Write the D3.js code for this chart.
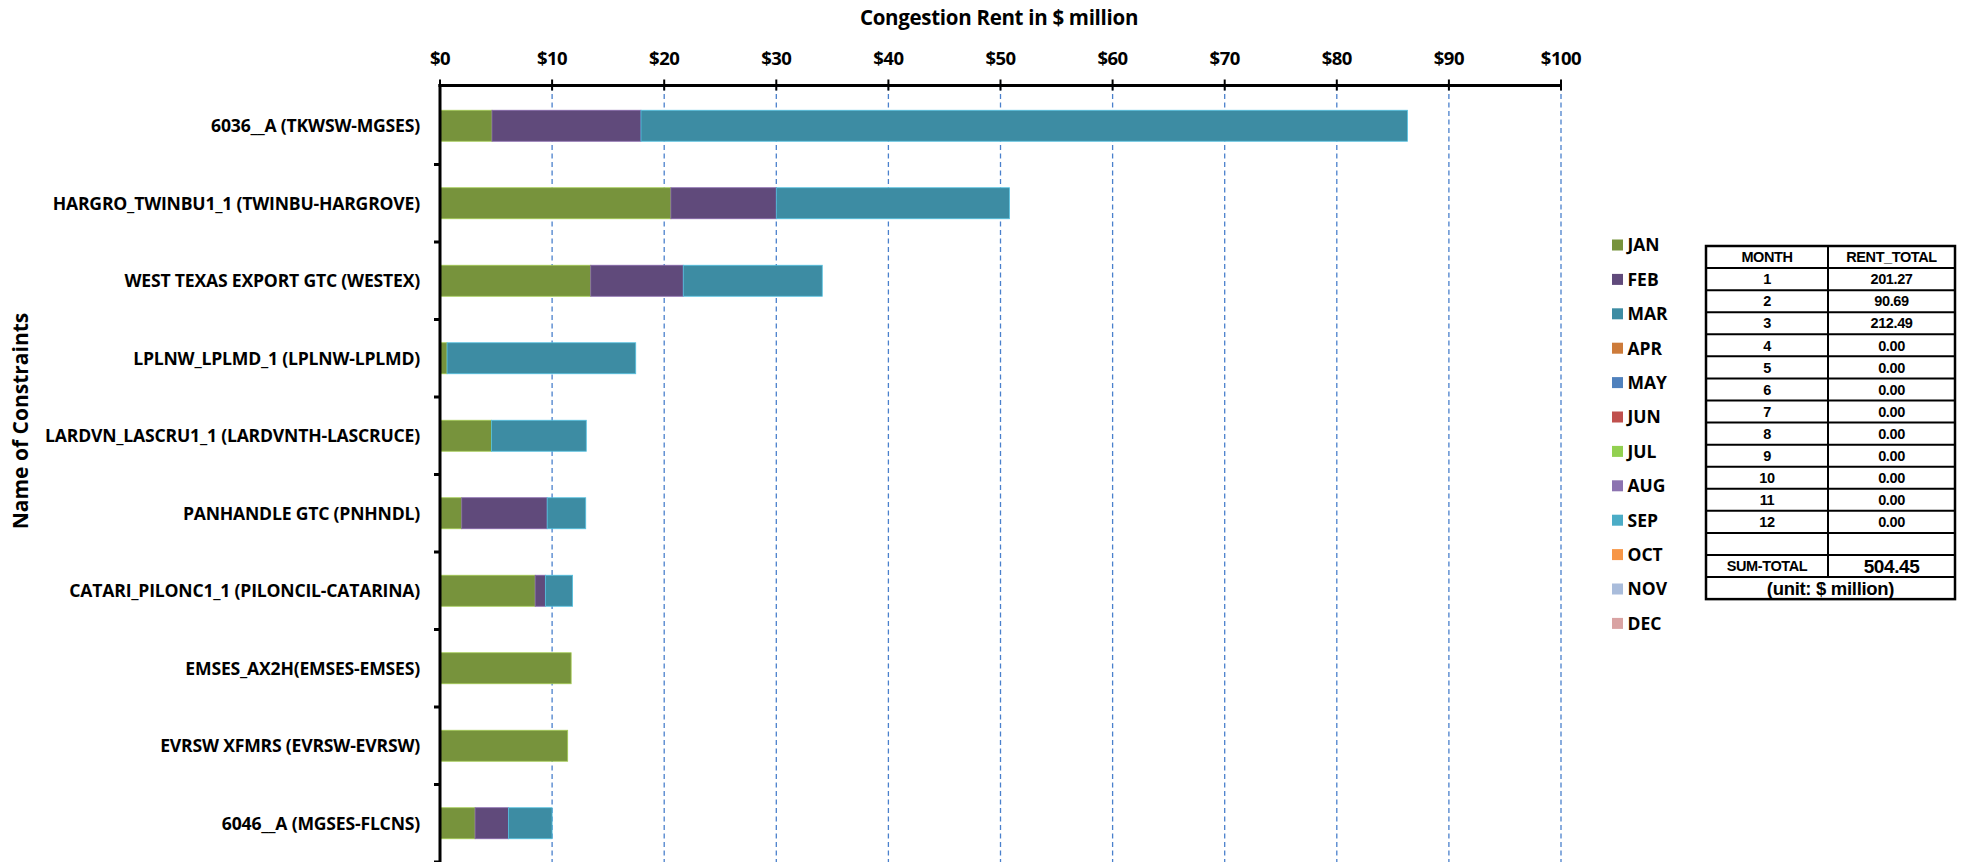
<!DOCTYPE html>
<html><head><meta charset="utf-8">
<script src="https://cdn.jsdelivr.net/npm/d3@7"></script>
<style>body{margin:0;background:#fff;} svg{display:block}</style>
</head><body><svg id="c" width="1967" height="862"></svg>
<script>
// ---- data ----
const constraints = ["6036__A (TKWSW-MGSES)", "HARGRO_TWINBU1_1 (TWINBU-HARGROVE)", "WEST TEXAS EXPORT GTC (WESTEX)",
  "LPLNW_LPLMD_1 (LPLNW-LPLMD)", "LARDVN_LASCRU1_1 (LARDVNTH-LASCRUCE)", "PANHANDLE GTC (PNHNDL)",
  "CATARI_PILONC1_1 (PILONCIL-CATARINA)", "EMSES_AX2H(EMSES-EMSES)", "EVRSW XFMRS (EVRSW-EVRSW)", "6046__A (MGSES-FLCNS)"];
const janValues = [4.64, 20.6, 13.45, 0.63, 4.6, 1.94, 8.49, 11.7, 11.39, 3.13];
const febValues = [13.29, 9.4, 8.25, 0, 0, 7.62, 0.91, 0, 0, 2.98];
const marValues = [68.37, 20.8, 12.4, 16.83, 8.45, 3.44, 2.43, 0, 0, 3.89];
const months = ["JAN","FEB","MAR","APR","MAY","JUN","JUL","AUG","SEP","OCT","NOV","DEC"];
const monthColors = ["#77933C","#604A7B","#3D8CA3","#CD7B3A","#4F81BD","#C0504D","#92D050","#8C73B0","#4BACC6","#F79646","#A9BCDB","#D9A3A3"];
const xTicks = [0,10,20,30,40,50,60,70,80,90,100];
const tableHeader = ["MONTH","RENT_TOTAL"];
const tableMonth = ["1","2","3","4","5","6","7","8","9","10","11","12"];
const tableRent = ["201.27","90.69","212.49","0.00","0.00","0.00","0.00","0.00","0.00","0.00","0.00","0.00"];
const sumLabel = "SUM-TOTAL", sumValue = "504.45", unitLabel = "(unit: $ million)";

// ---- layout ----
const svg = d3.select("#c");
const chartFont = "'Open Sans', Lato, sans-serif";
const tableFont = "'Liberation Sans', Arial, sans-serif";
const x = d3.scaleLinear().domain([0,100]).range([440,1561]);
const y = d3.scaleBand().domain(constraints).range([87,862]).paddingInner(0.6).paddingOuter(0.3);
const axisY = 85.5;

// gridlines
svg.append("g").selectAll("line").data(xTicks.filter(d=>d>0)).join("line")
  .attr("x1",d=>x(d)).attr("x2",d=>x(d)).attr("y1",axisY).attr("y2",862)
  .attr("stroke","#4A80CC").attr("stroke-width",1.3).attr("stroke-dasharray","5,3.5");

// stacked bars
const rows = constraints.map((c,i)=>({name:c, JAN:janValues[i], FEB:febValues[i], MAR:marValues[i]}));
const stack = d3.stack().keys(["JAN","FEB","MAR"])(rows);
svg.append("g").selectAll("g").data(stack).join("g")
  .attr("fill",(d,i)=>monthColors[i])
  .attr("stroke",(d,i)=>d3.color(monthColors[i]).brighter(0.9))
  .attr("stroke-width",0.8)
  .selectAll("rect").data(d=>d.filter(e=>e[1]-e[0]>0)).join("rect")
  .attr("x",d=>x(d[0])).attr("width",d=>x(d[1])-x(d[0]))
  .attr("y",d=>y(d.data.name)).attr("height",y.bandwidth());

// top axis
const gx = svg.append("g").attr("transform",`translate(0,${axisY})`);
gx.append("line").attr("x1",x(0)-1.5).attr("x2",x(100)+1).attr("stroke","#000").attr("stroke-width",3);
gx.selectAll(".tk").data(xTicks).join("line").attr("class","tk")
  .attr("x1",d=>x(d)).attr("x2",d=>x(d)).attr("y1",-6).attr("y2",5).attr("stroke","#000").attr("stroke-width",2);
gx.selectAll("text").data(xTicks).join("text")
  .attr("x",d=>x(d)).attr("y",-20.5).attr("text-anchor","middle")
  .style("font-family",chartFont).style("font-weight","bold").style("font-size","18.5px")
  .style("letter-spacing","-0.5px")
  .text(d=>"$"+d);

// left axis
const gy = svg.append("g");
gy.append("line").attr("x1",440).attr("x2",440).attr("y1",axisY-1.5).attr("y2",862).attr("stroke","#000").attr("stroke-width",3);
const step = y.step();
gy.selectAll(".tk").data(constraints).join("line").attr("class","tk")
  .attr("x1",434).attr("x2",440)
  .attr("y1",d=>y(d)-y.paddingOuter()*step+step).attr("y2",d=>y(d)-y.paddingOuter()*step+step)
  .attr("stroke","#000").attr("stroke-width",3);
gy.selectAll("text").data(constraints).join("text")
  .attr("x",420).attr("y",d=>y(d)+y.bandwidth()/2).attr("dy","0.36em").attr("text-anchor","end")
  .style("font-family",chartFont).style("font-weight","bold").style("font-size","17.6px")
  .style("letter-spacing","-0.2px")
  .text(d=>d);

// titles
svg.append("text").attr("x",999).attr("y",25).attr("text-anchor","middle")
  .style("font-family",chartFont).style("font-weight","bold").style("font-size","20.5px")
  .style("letter-spacing","-0.3px")
  .text("Congestion Rent in $ million");
svg.append("text").attr("transform","translate(28,421) rotate(-90)").attr("text-anchor","middle")
  .style("font-family",chartFont).style("font-weight","bold").style("font-size","21px")
  .text("Name of Constraints");

// legend
const lg = svg.append("g").selectAll("g").data(months).join("g")
  .attr("transform",(d,i)=>`translate(1612,${245+34.4*i})`);
lg.append("rect").attr("x",0).attr("y",-5.5).attr("width",11).attr("height",11).attr("fill",(d,i)=>monthColors[i]);
lg.append("text").attr("x",15.5).attr("y",0).attr("dy","0.36em")
  .style("font-family",chartFont).style("font-weight","bold").style("font-size","17.5px").text(d=>d);

// table
const tx0 = 1706, txm = 1828, tx1 = 1955, ty0 = 246, rh = 22.07;
const tg = svg.append("g");
const tRows = [tableHeader].concat(tableMonth.map((m,i)=>[m, tableRent[i]])).concat([["",""],[sumLabel,sumValue]]);
tg.selectAll(".c1").data(tRows).join("text").attr("class","c1")
  .attr("x",(tx0+txm)/2).attr("y",(d,i)=>ty0+rh*i+rh/2).attr("dy","0.36em").attr("text-anchor","middle")
  .style("font-family",tableFont).style("font-weight","bold")
  .style("font-size","14.5px").style("letter-spacing","-0.4px").text(d=>d[0]);
tg.selectAll(".c2").data(tRows).join("text").attr("class","c2")
  .attr("x",(txm+tx1)/2).attr("y",(d,i)=>ty0+rh*i+rh/2).attr("dy","0.36em").attr("text-anchor","middle")
  .style("font-family",tableFont).style("font-weight","bold")
  .style("font-size",(d,i)=> i===tRows.length-1 ? "19px" : "14.5px").style("letter-spacing","-0.4px").text(d=>d[1]);
tg.append("text").attr("x",(tx0+tx1)/2).attr("y",ty0+rh*15+rh/2).attr("dy","0.36em").attr("text-anchor","middle")
  .style("font-family",tableFont).style("font-weight","bold").style("font-size","18.5px").style("letter-spacing","-0.3px")
  .text(unitLabel);
// table lines
const nRows = 16;
tg.selectAll(".hl").data(d3.range(nRows+1)).join("line").attr("class","hl")
  .attr("x1",tx0).attr("x2",tx1).attr("y1",i=>ty0+rh*i).attr("y2",i=>ty0+rh*i)
  .attr("stroke","#000").attr("stroke-width",2);
tg.append("line").attr("x1",txm).attr("x2",txm).attr("y1",ty0).attr("y2",ty0+rh*15).attr("stroke","#000").attr("stroke-width",2);
tg.append("rect").attr("x",tx0).attr("y",ty0).attr("width",tx1-tx0).attr("height",rh*nRows)
  .attr("fill","none").attr("stroke","#000").attr("stroke-width",2.5);
</script></body></html>
